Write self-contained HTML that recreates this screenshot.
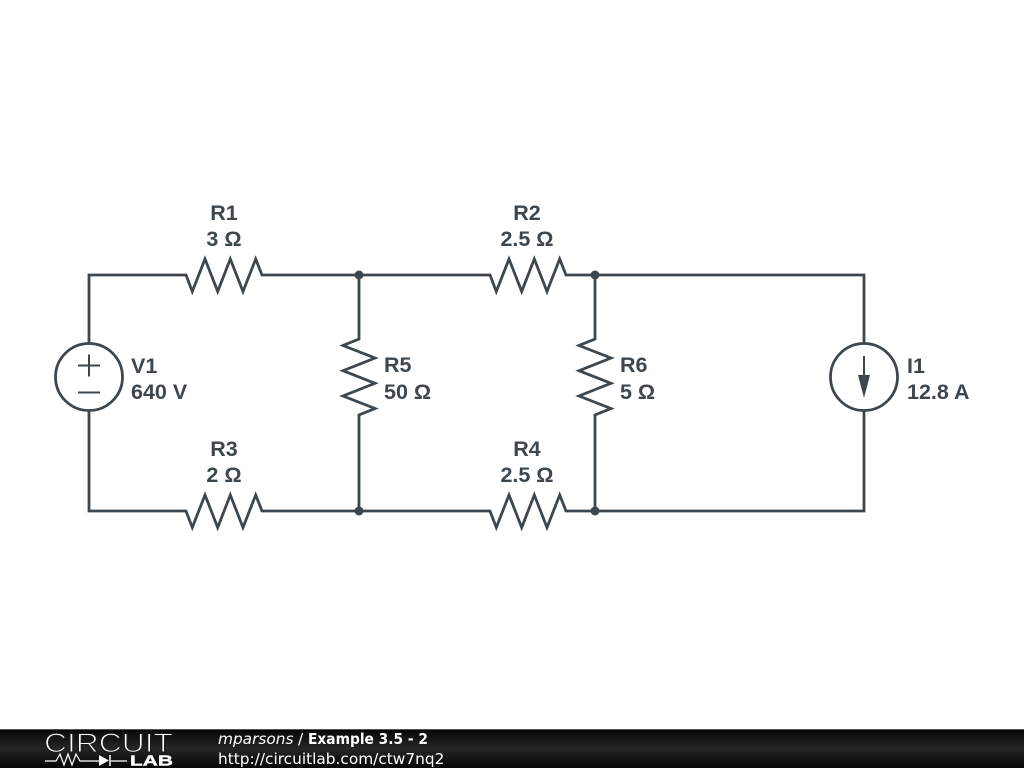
<!DOCTYPE html>
<html>
<head>
<meta charset="utf-8">
<style>
html,body{margin:0;padding:0;background:#fff;}
body{width:1024px;height:768px;overflow:hidden;position:relative;}
svg{position:absolute;left:0;top:0;}
.l{font-family:"Liberation Sans",sans-serif;font-weight:bold;font-size:21.5px;fill:#3d474d;}
.f{font-family:"DejaVu Sans",sans-serif;font-size:15.35px;fill:#fff;}
</style>
</head>
<body>
<svg width="1024" height="768" viewBox="0 0 1024 768">
<defs>
<linearGradient id="g" x1="0" y1="0" x2="0" y2="1">
<stop offset="0" stop-color="#050505"/>
<stop offset="0.5" stop-color="#262626"/>
<stop offset="1" stop-color="#050505"/>
</linearGradient>
</defs>
<g fill="none" stroke="#3d474d" stroke-width="2.8" stroke-linejoin="miter">
<path d="M89 343V275H186L192.3 291.5 205 259 217.7 291.5 230.3 259 243 291.5 255.7 259 262 275H490L496.3 291.5 509 259 521.7 291.5 534.3 259 547 291.5 559.7 259 566 275H864V343"/>
<path d="M89 411V511H186L192.3 527.5 205 495 217.7 527.5 230.3 495 243 527.5 255.7 495 262 511H490L496.3 527.5 509 495 521.7 527.5 534.3 495 547 527.5 559.7 495 566 511H864V411"/>
<path d="M359 275V339L343 345.5 375 358 343 370.7 375 383.3 343 396 375 408.5 359 415V511"/>
<path d="M595 275V339L579 345.5 611 358 579 370.7 611 383.3 579 396 611 408.5 595 415V511"/>
<circle cx="89" cy="377" r="33.5"/>
<circle cx="864" cy="377" r="33.5"/>
<path d="M78 365.500H100M89 354.500V376.500M78 392.500H100" stroke-width="2"/>
<path d="M864 356V380" stroke-width="2"/>
</g>
<path d="M858 375H870L864 398Z" fill="#3d474d"/>
<g fill="#3d474d">
<circle cx="359" cy="275" r="4.500"/>
<circle cx="595" cy="275" r="4.500"/>
<circle cx="359" cy="511" r="4.500"/>
<circle cx="595" cy="511" r="4.500"/>
</g>
<g class="l" text-anchor="middle">
<text class="l" x="224" y="220">R1</text>
<text class="l" x="224" y="246">3 Ω</text>
<text class="l" x="527" y="220">R2</text>
<text class="l" x="527" y="246">2.5 Ω</text>
<text class="l" x="224" y="456">R3</text>
<text class="l" x="224" y="482">2 Ω</text>
<text class="l" x="527" y="456">R4</text>
<text class="l" x="527" y="482">2.5 Ω</text>
</g>
<text class="l" x="131" y="373">V1</text>
<text class="l" x="131" y="399">640 V</text>
<text class="l" x="384" y="372">R5</text>
<text class="l" x="384" y="399">50 Ω</text>
<text class="l" x="620" y="372">R6</text>
<text class="l" x="620" y="399">5 Ω</text>
<text class="l" x="907" y="373">I1</text>
<text class="l" x="907" y="399">12.8 A</text>

<rect x="0" y="729" width="1024" height="39" fill="url(#g)"/>
<rect x="0" y="729" width="1024" height="1" fill="#555"/>
<text x="44" y="752" font-family="'Liberation Sans',sans-serif" font-size="26.500" fill="#fff" stroke="#1c1c1c" stroke-width="1.100" textLength="129" lengthAdjust="spacingAndGlyphs">CIRCUIT</text>
<path d="M45 761H56L60 754 64 765 68 754 72 765 76 754 80 761H99M111 761H127" fill="none" stroke="#fff" stroke-width="1.200"/>
<path d="M99 755V766L109 760.500Z" fill="#fff"/>
<path d="M110 755V766" stroke="#fff" stroke-width="1.500"/>
<text x="130" y="765.500" font-family="'Liberation Sans',sans-serif" font-weight="bold" font-size="15" fill="#fff" stroke="#fff" stroke-width="0.400" textLength="43" lengthAdjust="spacingAndGlyphs">LAB</text>
<text class="f" x="218" y="744" font-style="italic">mparsons</text>
<text class="f" x="298" y="744">/</text>
<text class="f" x="308" y="744" font-weight="bold" textLength="120" lengthAdjust="spacingAndGlyphs">Example 3.5 - 2</text>
<text class="f" x="218" y="764">http://circuitlab.com/ctw7nq2</text>
</svg>
</body>
</html>
